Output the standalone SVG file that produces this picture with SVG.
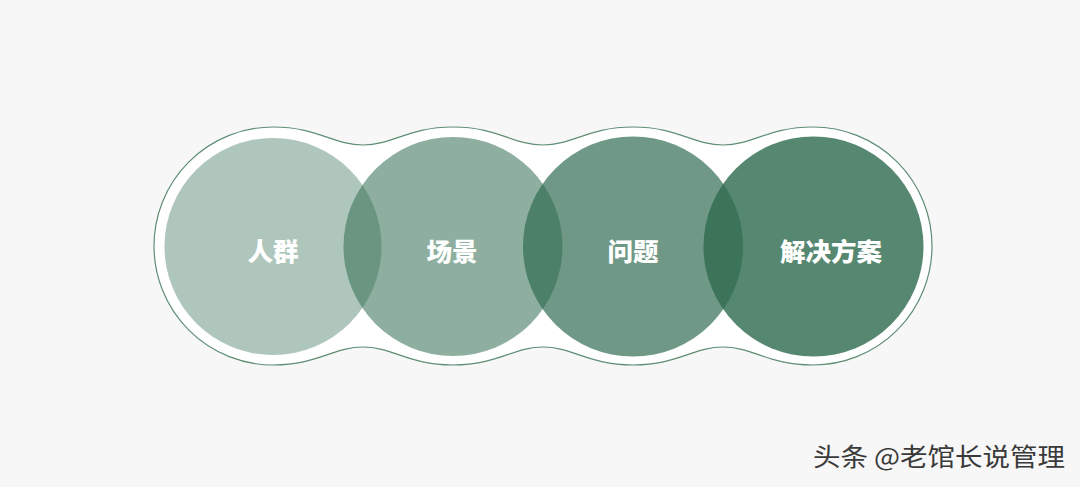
<svg xmlns="http://www.w3.org/2000/svg" width="1080" height="487" viewBox="0 0 1080 487">
<style>
.c{fill:#2f6b4f}
.t{fill:#ffffff;font-family:"Noto Sans CJK SC","Noto Sans",sans-serif;font-weight:900;font-size:25.5px;text-anchor:middle}
.wm{fill:#3a3a3a;font-family:"Noto Sans CJK SC","Noto Sans",sans-serif;font-size:25px}
</style>
<rect width="1080" height="487" fill="#f7f7f7"/>
<g id="outline">
<path d="M273,127 C318,127 333,145 363,145 C393,145 408,127 453,127 C498,127 513,145 543,145 C573,145 588,127 633,127 C678,127 693,145 723,145 C753,145 768,127 813,127 A119,119 0 0 1 813,365 C768,365 753,347 723,347 C693,347 678,365 633,365 C588,365 573,347 543,347 C513,347 498,365 453,365 C408,365 393,347 363,347 C333,347 318,365 273,365 A119,119 0 0 1 273,127 Z" fill="#ffffff" stroke="#5e8e74" stroke-width="1.2"/>
</g>
<g id="node1"><circle class="c" cx="273" cy="246.5" r="108.5" fill-opacity="0.39"/><text class="t" x="273" y="261">人群</text></g>
<g id="node2"><circle class="c" cx="453" cy="246.5" r="109.5" fill-opacity="0.54"/><text class="t" x="452" y="261">场景</text></g>
<g id="node3"><circle class="c" cx="633" cy="246.5" r="110" fill-opacity="0.69"/><text class="t" x="633" y="261">问题</text></g>
<g id="node4"><circle class="c" cx="813.5" cy="246.5" r="110" fill-opacity="0.81"/><text class="t" x="831" y="261">解决方案</text></g>
<g id="connectors"></g>
<text class="wm" x="813" y="466" textLength="252" lengthAdjust="spacingAndGlyphs">头条 @老馆长说管理</text>
</svg>
